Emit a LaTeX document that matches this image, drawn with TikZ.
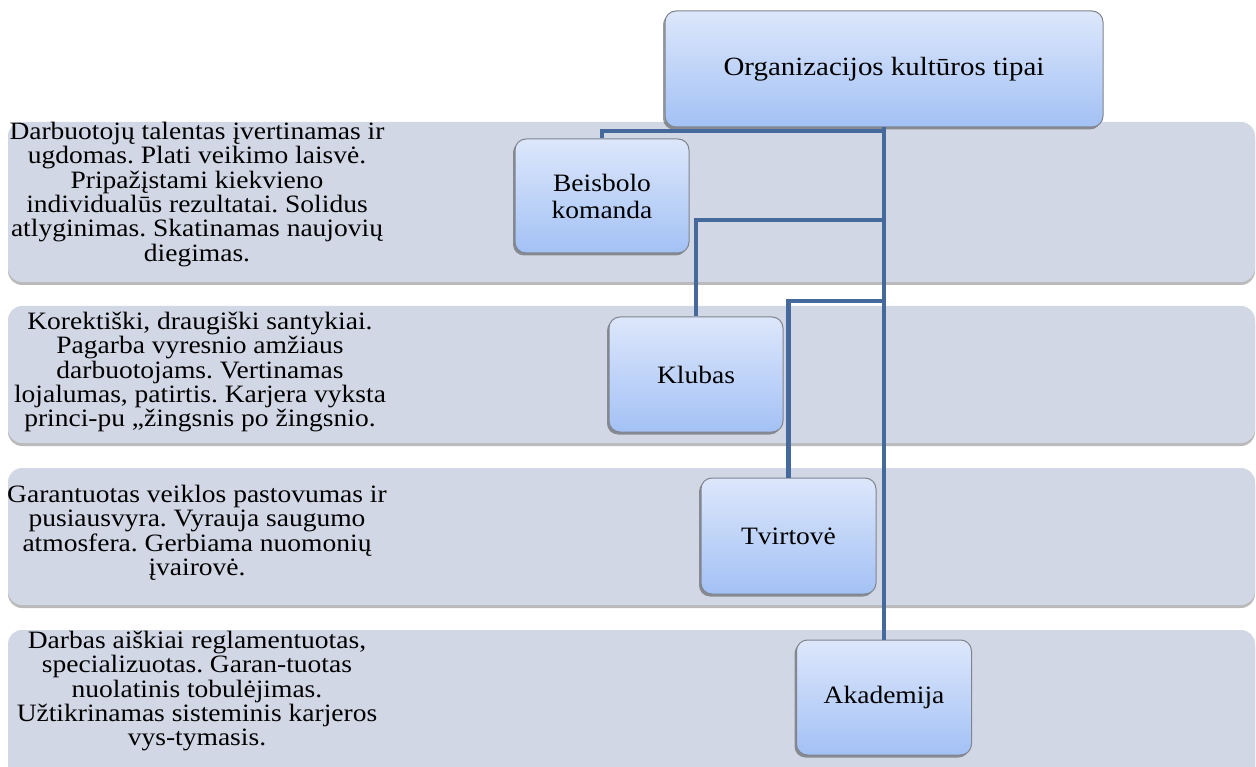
\documentclass[tikz,border=0pt]{standalone}
\usepackage{fontspec}
\setmainfont{Liberation Serif}[FakeStretch=1.1]
\usetikzlibrary{shadows}
\definecolor{bandfill}{HTML}{D1D7E5}
\definecolor{conncol}{HTML}{44699A}
\definecolor{boxtop}{HTML}{DDE7FB}
\definecolor{boxbot}{HTML}{A3C1F5}
\definecolor{boxedge}{HTML}{7F848E}
\begin{document}
\frenchspacing
\begin{tikzpicture}[x=1pt,y=-1pt,
  band/.style={fill=bandfill, rounded corners=14pt,
    drop shadow={shadow xshift=0pt, shadow yshift=-3pt, opacity=0.45, fill=black!60}},
  bandtext/.style={align=center, font=\fontsize{25}{24.3}\selectfont, anchor=north, inner sep=0pt},
  box/.style={draw=boxedge, line width=1pt, rounded corners=11pt, top color=boxtop, bottom color=boxbot,
    align=center, font=\fontsize{25}{27}\selectfont, inner sep=0pt,
    drop shadow={shadow xshift=-2pt, shadow yshift=-2.5pt, opacity=0.55, fill=black!70}},
  conn/.style={draw=conncol, line width=4.6pt}]
\useasboundingbox (0,0) rectangle (1256,767);
\clip (0,0) rectangle (1256,767);
% bands
\path[band] (8,122) rectangle (1255,282);
\path[band] (8,306) rectangle (1255,443);
\path[band] (8,468) rectangle (1255,605);
\path[band] (8,630) rectangle (1255,790);
% band texts
\node[bandtext] (t1) at (197,122) {Darbuotojų talentas įvertinamas ir\\ugdomas. Plati veikimo laisvė.\\Pripažįstami kiekvieno\\individualūs rezultatai. Solidus\\atlyginimas. Skatinamas naujovių\\diegimas.};
\node[bandtext] (t2) at (200,312) {Korektiški, draugiški santykiai.\\Pagarba vyresnio amžiaus\\darbuotojams. Vertinamas\\lojalumas, patirtis. Karjera vyksta\\princi-pu ,,žingsnis po žingsnio.};
\node[bandtext] (t3) at (197,485) {Garantuotas veiklos pastovumas ir\\pusiausvyra. Vyrauja saugumo\\atmosfera. Gerbiama nuomonių\\įvairovė.};
\node[bandtext] (t4) at (197,631) {Darbas aiškiai reglamentuotas,\\specializuotas. Garan-tuotas\\nuolatinis tobulėjimas.\\Užtikrinamas sisteminis karjeros\\vys-tymasis.};
% boxes
\node[box, minimum width=438pt, minimum height=116pt, font=\fontsize{26.3}{27}\selectfont] (top) at (884,69) {Organizacijos kultūros tipai};
\node[box, minimum width=174pt, minimum height=114pt] (beis) at (602,196) {Beisbolo\\komanda};
\node[box, minimum width=174pt, minimum height=115pt] (klub) at (696,374.5) {Klubas};
\node[box, minimum width=175pt, minimum height=116pt] (tvir) at (788.5,536) {Tvirtovė};
\node[box, minimum width=175pt, minimum height=115pt] (aka) at (884,697.5) {Akademija};
% connectors
\coordinate (j1) at (884,131);
\coordinate (j2) at (884,220);
\coordinate (j3) at (884,301);
\draw[conn] (top.south) -- (aka.north);
\draw[conn] (j1) -| (beis.north);
\draw[conn] (j2) -| (klub.north);
\draw[conn] (j3) -| (tvir.north);
\end{tikzpicture}
\end{document}
